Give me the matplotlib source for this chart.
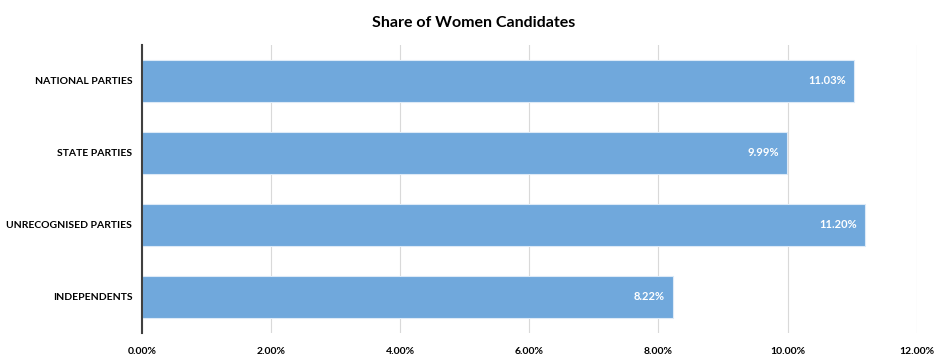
import matplotlib
matplotlib.use("Agg")
import matplotlib.pyplot as plt
from matplotlib.ticker import FuncFormatter

categories = ["NATIONAL PARTIES", "STATE PARTIES", "UNRECOGNISED PARTIES", "INDEPENDENTS"]
share_pct = [11.03, 9.99, 11.20, 8.22]
ticks = [0, 2, 4, 6, 8, 10, 12]

plt.rcParams["font.family"] = ["Lato", "DejaVu Sans"]

fig = plt.figure(figsize=(9.47, 3.63), dpi=100)
ax = fig.add_axes([0.150, 0.083, 0.818, 0.793])

ypos = list(range(len(categories)))
bars = ax.barh(ypos, share_pct, height=0.58, color="#70a8dc", edgecolor="#ddeaf7",
               linewidth=0.8, zorder=3)

for b, v in zip(bars, share_pct):
    ax.text(b.get_width() - 0.12, b.get_y() + b.get_height() / 2, f"{v:.2f}%",
            ha="right", va="center", color="white", fontsize=8, fontweight="bold", zorder=4)

ax.set_ylim(len(categories) - 0.5, -0.5)
ax.set_xlim(0, 12)
ax.set_yticks(ypos)
ax.set_yticklabels(categories, fontsize=7.5, fontweight="bold")
ax.set_xticks(ticks)
ax.xaxis.set_major_formatter(FuncFormatter(lambda x, p: f"{x:.2f}%"))
for lab in ax.get_xticklabels():
    lab.set_fontsize(7.5)
    lab.set_fontweight("bold")
ax.tick_params(axis="y", length=0, pad=7)
ax.tick_params(axis="x", length=0, pad=10)

ax.grid(axis="x", color="#d9d9d9", linewidth=0.8, zorder=0)
for s in ["top", "right", "bottom"]:
    ax.spines[s].set_visible(False)
ax.spines["left"].set_color("#404040")
ax.spines["left"].set_linewidth(1.5)
ax.spines["left"].set_zorder(5)

fig.suptitle("Share of Women Candidates", y=0.955, fontsize=11.5, fontweight="bold")

fig.savefig("out.png", dpi=100)
